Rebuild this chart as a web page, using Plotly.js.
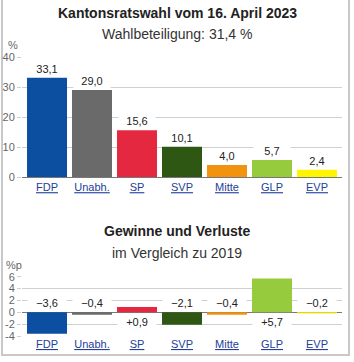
<!DOCTYPE html>
<html>
<head>
<meta charset="utf-8">
<script src="https://cdn.plot.ly/plotly-3.0.1.min.js"></script>
<style>
  html, body { margin: 0; padding: 0; background: #fff; }
  #wrap { position: relative; width: 354px; height: 362px; }
  #frame { position: absolute; left: 1px; top: -2px; width: 349px; height: 358px;
           border: 2px solid #c8c8c8; box-sizing: border-box; }
  #chart { position: absolute; left: 0; top: 0; width: 354px; height: 362px; }
</style>
</head>
<body>
<div id="wrap"><div id="frame"></div><div id="chart"></div></div>
<script>
// ---- data ----
const parties = ["FDP", "Unabh.", "SP", "SVP", "Mitte", "GLP", "EVP"];
const shares = [33.1, 29.0, 15.6, 10.1, 4.0, 5.7, 2.4];
const changes = [-3.6, -0.4, 0.9, -2.1, -0.4, 5.7, -0.2];
const colors = ["#0c4ea0", "#6a6a6a", "#e4283f", "#2f5714", "#f29310", "#97cb3e", "#fff500"];
const topTicks = [0, 10, 20, 30, 40];
const bottomTicks = [-4, -2, 0, 2, 4, 6];

const W = 354, H = 362;
const FONT = "Arial, 'Liberation Sans', sans-serif";
const px = v => v / W;
const py = v => 1 - v / H;

function fmt(v, sign) {
  let s = Math.abs(v).toFixed(1).replace('.', ',');
  if (!sign) return s;
  return (v < 0 ? '\u2212' : '+') + s;
}

const traces = [
  { type: 'bar', x: parties, y: shares, marker: { color: colors }, xaxis: 'x', yaxis: 'y', hoverinfo: 'none' },
  { type: 'bar', x: parties, y: changes, marker: { color: colors }, xaxis: 'x2', yaxis: 'y2', hoverinfo: 'none' }
];

const tickText = parties.map(p => '<u>' + p + '</u>');
const xCommon = {
  type: 'category', range: [-0.556, 6.556], domain: [px(22), px(342)],
  tickvals: parties, ticktext: tickText, ticks: '', showgrid: false, zeroline: false,
  tickfont: { family: FONT, size: 11, color: '#22409a' }, fixedrange: true
};
const yCommon = {
  showgrid: true, gridcolor: '#d0d0d0', gridwidth: 1, ticks: 'outside', ticklen: 4,
  tickcolor: '#d0d0d0', tickfont: { family: FONT, size: 11, color: '#666' }, showline: false, fixedrange: true
};

const annotations = [];
function addText(text, x, y, size, bold, color) {
  annotations.push({ text: bold ? '<b>' + text + '</b>' : text, xref: 'paper', yref: 'paper',
    x: px(x), y: py(y), xanchor: 'center', yanchor: 'middle', showarrow: false,
    font: { family: FONT, size: size, color: color } });
}
addText('Kantonsratswahl vom 16. April 2023', 177, 13, 14, true, '#222');
addText('Wahlbeteiligung: 31,4 %', 177, 34, 14, false, '#333');
addText('Gewinne und Verluste', 177, 231, 14, true, '#222');
addText('im Vergleich zu 2019', 177, 253, 14, false, '#333');
addText('%', 13, 45, 11, false, '#666');
addText('%p', 14, 265, 11, false, '#666');

parties.forEach((p, i) => {
  annotations.push({ text: fmt(shares[i], false), x: p, y: shares[i], xref: 'x', yref: 'y',
    yanchor: 'bottom', yshift: 1, showarrow: false, bgcolor: '#fff', width: 34,
    font: { family: FONT, size: 11, color: '#222' } });
  const v = changes[i];
  annotations.push({ text: fmt(v, true), x: p, y: 0, xref: 'x2', yref: 'y2',
    yanchor: v < 0 ? 'bottom' : 'top', yshift: v < 0 ? 1 : -2, showarrow: false, bgcolor: '#fff', width: 36,
    font: { family: FONT, size: 11, color: '#222' } });
});

const layout = {
  width: W, height: H, margin: { l: 0, r: 0, t: 0, b: 0 },
  paper_bgcolor: 'rgba(0,0,0,0)', plot_bgcolor: 'rgba(0,0,0,0)',
  showlegend: false, bargap: 0.111,
  xaxis: Object.assign({}, xCommon, { anchor: 'y', showline: true, linecolor: '#777', linewidth: 1 }),
  xaxis2: Object.assign({}, xCommon, { anchor: 'y2', showline: false }),
  yaxis: Object.assign({}, yCommon, { anchor: 'x', range: [0, 40], tickvals: topTicks,
    domain: [py(177), py(57)], zeroline: false }),
  yaxis2: Object.assign({}, yCommon, { anchor: 'x2', range: [-4, 6], tickvals: bottomTicks,
    ticktext: bottomTicks.map(String),
    domain: [py(336), py(276.7)], zeroline: true, zerolinecolor: '#777', zerolinewidth: 1 }),
  annotations: annotations
};

Plotly.newPlot('chart', traces, layout, { displayModeBar: false, staticPlot: true });
</script>
</body>
</html>
